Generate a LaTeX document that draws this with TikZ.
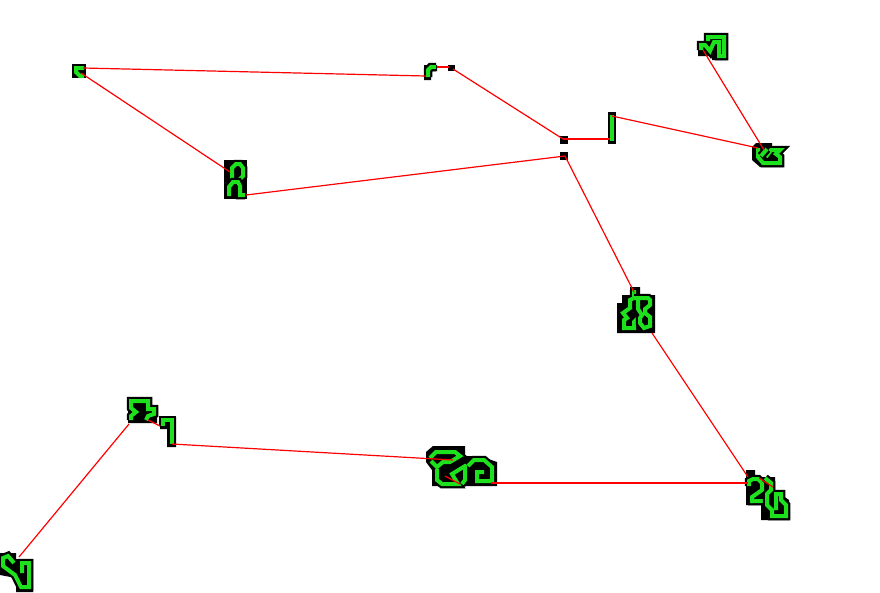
\documentclass[tikz,border=0pt]{standalone}
\definecolor{gr}{RGB}{30,225,30}
\tikzset{
  blk/.style={fill=black},
  olin/.style={draw=black,line width=8.5pt,line join=miter,line cap=square},
  grn/.style={draw=gr,line width=4pt,line join=miter,line cap=butt},
  wire/.style={draw=red,line width=1.2pt}
}
\newcommand\glyphpath[1]{\draw[olin] #1; \draw[grn] #1;}
\begin{document}
\begin{tikzpicture}[x=1pt,y=-1pt]
\useasboundingbox[fill=white] (0,0) rectangle (880,592);
% ---- blob A
\fill[blk] (72,64) rectangle (86,78);
\draw[grn] (84,68) -- (76,68) -- (76,72) -- (80,76) -- (84,76);
% ---- blob B
\fill[blk] (424,65) -- (437,65) -- (437,71) -- (431,71) -- (431,80) -- (424,80) -- cycle;
\glyphpath{(428,77) -- (428,70) -- (431,67) -- (436,67)}
\fill[blk] (448,65) rectangle (455,71);
% ---- blob C
\fill[blk] (224,160) rectangle (247,199);
\glyphpath{(232,181) -- (232,168) -- (236,164) -- (240,164) -- (243,168) -- (243,176) -- (238,181)}
\glyphpath{(229,196) -- (229,187) -- (233,182) -- (238,182) -- (240,186) -- (240,195) -- (245,195)}
% ---- bar D and squares
\fill[blk] (608,112) rectangle (616,144);
\draw[grn,line width=4pt] (612,115) -- (612,141);
\fill[blk] (560,136) rectangle (568,144);
\fill[blk] (560,152) rectangle (568,160);
% ---- blob E
\fill[blk] (705,33) -- (727,33) -- (727,60) -- (712,60) -- (712,56) -- (698,56) -- (698,43) -- (705,43) -- cycle;
\glyphpath{(701,50) -- (701,45) -- (705,45) -- (710,51) -- (714,42) -- (719,42) -- (719,56) -- (724,56) -- (724,37) -- (708,37) -- (708,41)}
% ---- blob F
\fill[blk] (756,143) -- (772,143) -- (772,146) -- (783,146) -- (783,167) -- (760,167) -- (752,160) -- (752,147) -- cycle;
\glyphpath{(758,148) -- (758,157) -- (763,163) -- (780,163) -- (780,157) -- (776,154) -- (780,150) -- (771,150) -- (766,157)}
\glyphpath{(767,149) -- (761,156)}
% ---- blob G
\fill[blk] (630,287) -- (640,287) -- (640,295) -- (655,295) -- (655,333) -- (617,333) -- (617,303) -- (622,303) -- (622,295) -- (630,295) -- cycle;
\glyphpath{(634,290) -- (634,298) -- (630,300) -- (630,308) -- (623,313) -- (627,318) -- (624,320) -- (624,328) -- (634,328) -- (634,322) -- (638,318)}
\glyphpath{(634,298) -- (648,298) -- (650,300) -- (650,305) -- (645,309) -- (645,313) -- (650,317) -- (650,326) -- (644,328) -- (640,323) -- (640,318) -- (642,315) -- (638,309) -- (638,298)}
% ---- blob H
\fill[blk] (128,398) -- (150,398) -- (150,406) -- (157,406) -- (157,423) -- (128,423) -- cycle;
\glyphpath{(131,420) -- (131,416) -- (136,412) -- (131,408) -- (131,401) -- (148,401) -- (148,409) -- (154,409) -- (154,414) -- (148,416) -- (146,420)}
\fill[blk] (160,417) -- (176,417) -- (176,447) -- (167,447) -- (167,429) -- (160,429) -- cycle;
\glyphpath{(163,426) -- (163,420) -- (172,420) -- (172,444)}
% ---- blob I
\fill[blk] (426,452) -- (433,446) -- (465,446) -- (465,456) -- (480,456) -- (497,462) -- (497,486) -- (432,486) -- (432,470) -- (426,462) -- cycle;
\glyphpath{(430,458) -- (436,452) -- (455,452) -- (460,456) -- (450,462) -- (443,462) -- (437,467) -- (431,461)}
\glyphpath{(437,469) -- (437,480) -- (442,484) -- (458,484) -- (452,474) -- (465,466) -- (465,480) -- (462,484)}
\glyphpath{(468,466) -- (474,460) -- (484,460) -- (492,467) -- (492,481) -- (477,481) -- (477,472) -- (484,472)}
% ---- blob J
\fill[blk] (746,470) -- (755,470) -- (755,477) -- (775,477) -- (775,490) -- (789,500) -- (789,520) -- (761,520) -- (761,505) -- (746,505) -- cycle;
\glyphpath{(749,486) -- (749,481) -- (753,479) -- (758,479) -- (762,483) -- (762,490) -- (752,497) -- (752,501) -- (768,501)}
\glyphpath{(765,478) -- (771,483) -- (771,490) -- (767,494) -- (767,505) -- (772,510) -- (772,516) -- (786,516) -- (786,505) -- (781,500) -- (781,494) -- (776,494) -- (776,510)}
% ---- blob K
\fill[blk] (0,553) -- (16,553) -- (16,559) -- (33,559) -- (33,592) -- (16,592) -- (16,578) -- (0,575) -- cycle;
\glyphpath{(14,563) -- (8,556) -- (3,558) -- (3,566) -- (15,575) -- (21,587) -- (29,587) -- (29,563) -- (22,563) -- (22,573)}
% ---- connector end points
\coordinate (a1) at (83,68);
\coordinate (a2) at (81,73);
\coordinate (b1) at (426,76);
\coordinate (b2) at (437,67);
\coordinate (b3) at (449,67);
\coordinate (b4) at (453,69);
\coordinate (c1) at (230,172);
\coordinate (c2) at (246,195);
\coordinate (s1) at (563,139);
\coordinate (s1r) at (610,139);
\coordinate (s2) at (565,156);
\coordinate (d1) at (612,116);
\coordinate (e1) at (703,50);
\coordinate (f1) at (764,150);
\coordinate (f2) at (758,148);
\coordinate (g1) at (634,292);
\coordinate (g2) at (652,333);
\coordinate (j1) at (748,477);
\coordinate (j2) at (748,483);
\coordinate (j3) at (759,478);
\coordinate (j4) at (773,487);
\coordinate (i1) at (491,483);
\coordinate (i2) at (453,460);
\coordinate (i3) at (445,476);
\coordinate (i4) at (460,484);
\coordinate (h1) at (172,444);
\coordinate (h2) at (148,420);
\coordinate (h3) at (160,426);
\coordinate (h4) at (129,424);
\coordinate (k1) at (19,557);
% ---- connectors
\draw[wire] (a1) -- (b1);
\draw[wire] (a2) -- (c1);
\draw[wire] (b2) -- (b3);
\draw[wire] (b4) -- (s1);
\draw[wire] (s1) -- (s1r);
\draw[wire] (d1) -- (f2);
\draw[wire] (e1) -- (f1);
\draw[wire] (c2) -- (s2);
\draw[wire] (s2) -- (g1);
\draw[wire] (g2) -- (j1);
\draw[wire] (i1) -- (j2);
\draw[wire] (j3) -- (j4);
\draw[wire] (h1) -- (i2);
\draw[wire] (i3) -- (i4);
\draw[wire] (h2) -- (h3);
\draw[wire] (h4) -- (k1);
\end{tikzpicture}
\end{document}
